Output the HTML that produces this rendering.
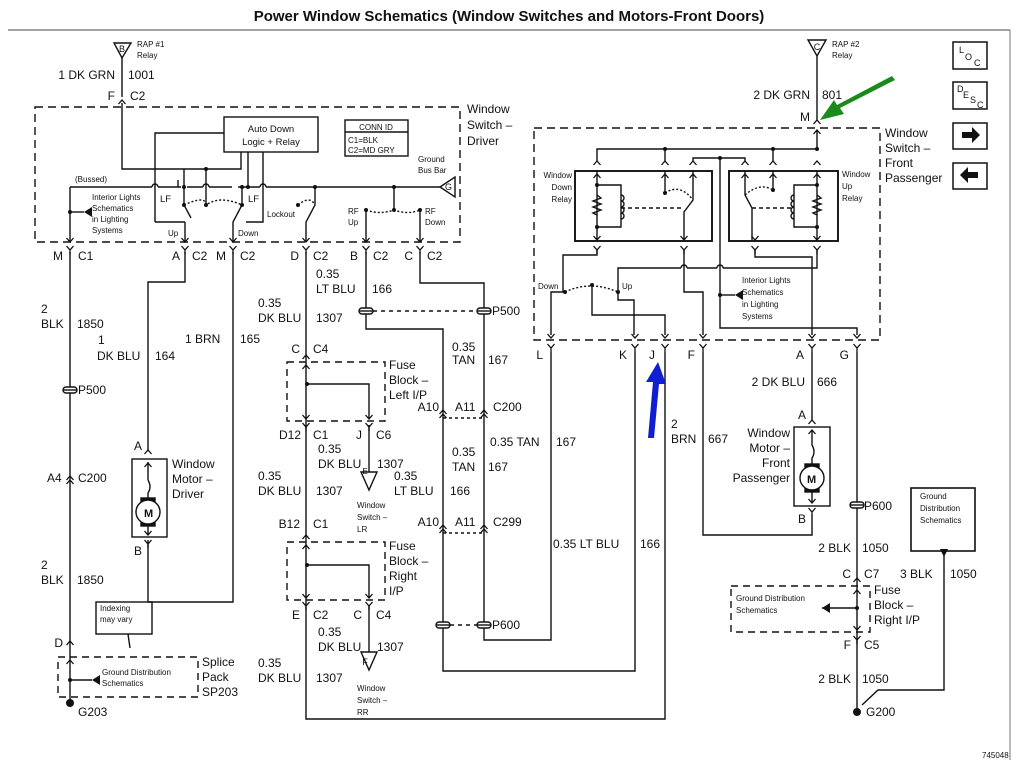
<!DOCTYPE html>
<html><head><meta charset="utf-8"><style>
html,body{margin:0;padding:0;background:#fff;}
svg{display:block;font-family:"Liberation Sans",Arial,sans-serif;}
.t{font-size:12px;fill:#111;}
.s{font-size:8px;fill:#111;}
.m{font-size:9.5px;fill:#111;}
</style></head><body>
<svg width="1018" height="772" viewBox="0 0 1018 772" xmlns="http://www.w3.org/2000/svg">
<defs>
<g id="yc"><path d="M-3.5,-4 L0,0 L3.5,-4 M0,0 V4" fill="none" stroke="#111" stroke-width="1.3"/></g>
<g id="up"><path d="M-3.5,4 L0,0 L3.5,4" fill="none" stroke="#111" stroke-width="1.3"/></g>
<g id="dn"><path d="M-3.5,-4 L0,0 L3.5,-4" fill="none" stroke="#111" stroke-width="1.3"/></g>
<g id="sp"><rect x="-7" y="-3" width="14" height="6" rx="3" fill="#fff" stroke="#111" stroke-width="1.4"/><line x1="-7" y1="0" x2="7" y2="0" stroke="#111" stroke-width="1.4"/></g>
</defs>
<text x="509" y="21" text-anchor="middle" style="font-size:15px;font-weight:bold" fill="#111">Power Window Schematics (Window Switches and Motors-Front Doors)</text>
<line x1="8" y1="30" x2="1010" y2="30" stroke="#444" stroke-width="1"/>
<line x1="1010" y1="30" x2="1010" y2="760" stroke="#777" stroke-width="1"/>

<g fill="none" stroke="#111" stroke-width="1.4">
<path d="M114,43 H131 L122,58 Z"/>
<line x1="122" y1="58" x2="122" y2="97"/>
<rect x="35" y="107" width="425" height="135" stroke-dasharray="8,5"/>
<rect x="224" y="117" width="94" height="35"/>
<rect x="345" y="120" width="63" height="36"/>
<line x1="345" y1="132" x2="408" y2="132"/>
<path d="M122,103 V169 H241 V152"/>
<path d="M155,222 V133 H224"/>
<path d="M263,152 V222 H246"/>
<path d="M248,152 V187"/>
<path d="M70,187 H152 M158,187 H181 M187,187 H203 M209,187 H232 M238,187 H260 M266,187 H440"/>
<path d="M152,187 a3,3 0 0 1 6,0 M203,187 a3,3 0 0 1 6,0 M260,187 a3,3 0 0 1 6,0"/>
<path d="M184,169 V187 M178,187 V180"/>
<path d="M206,169 V180"/>
<path d="M440,187 L455,177 V197 Z"/>
<path d="M70,187 V242"/>
<path d="M70,212 H84"/>
<path d="M184,187 V205 L191,218 M185,222 V242 M185,222 H155"/>
<path d="M242,187 V205 L233,222 V242"/>
<path d="M206,180 V205"/>
<path d="M315,187 V205 L306,222 V242"/>
<path d="M394,187 V210"/>
<path d="M366,210 V242 M420,210 V242"/>
<path d="M184,205 Q206,195 206,205 Q220,195 242,205" stroke-dasharray="2,2"/>
<path d="M298,205 Q310,195 315,205" stroke-dasharray="2,2"/>
<path d="M366,210 Q380,215 394,210 Q408,215 420,210" stroke-dasharray="2,2"/>

<path d="M70,252 V703"/>
<path d="M185,252 V282 H148 V450"/>
<path d="M148,540 V602 H233 V252"/>
<rect x="132" y="459" width="35" height="78"/>
<path d="M148,462 V480 M148,480 Q152,487 148,493 V500 M148,525 V535"/>
<rect x="141" y="498" width="14" height="28" fill="#111"/>
<circle cx="148" cy="512" r="12" fill="#fff"/>
<rect x="58" y="657" width="140" height="40" stroke-dasharray="7,5"/>
<path d="M70,680 H92"/>
<rect x="96" y="602" width="56" height="32"/>
<path d="M128,634 L130,648"/>

<path d="M306,252 V719 H665 V352"/>
<path d="M366,252 V329 H443 V671 H635 V352"/>
<path d="M420,252 V283 H484 V640 H551 V352"/>
<line x1="373" y1="311" x2="477" y2="311" stroke-dasharray="4,4"/>
<line x1="450" y1="625" x2="477" y2="625" stroke-dasharray="4,4"/>
<line x1="443" y1="418" x2="484" y2="418" stroke-dasharray="3,3"/>
<line x1="443" y1="533" x2="484" y2="533" stroke-dasharray="3,3"/>
<rect x="287" y="362" width="98" height="59" stroke-dasharray="7,5"/>
<path d="M307,384 H369 V418"/>
<rect x="287" y="542" width="98" height="58" stroke-dasharray="7,5"/>
<path d="M307,565 H369 V598 M369,605 V652"/>
<path d="M369,425 V472"/>
<path d="M361,472 H377 L369,490 Z"/>
<path d="M361,652 H377 L369,670 Z"/>

<path d="M808,40 H826 L817,56 Z"/>
<line x1="817" y1="56" x2="817" y2="120"/>
<rect x="534" y="128" width="346" height="212" stroke-dasharray="8,5"/>
<rect x="575" y="171" width="137" height="70" stroke-width="1.9"/>
<rect x="729" y="171" width="109" height="70" stroke-width="1.9"/>
<path d="M597,161 V149 H817 V130"/>
<path d="M665,149 V161 M773,149 V161"/>
<path d="M693,161 V158 H745 V161"/>
<path d="M720,158 V328 H857 V335"/>
<path d="M597,171 V240 M597,185 H621 V227 H597"/>
<path d="M665,171 V193 M693,171 V200 L684,212 V240"/>
<path d="M665,193 Q680,183 693,200" stroke-dasharray="2,2"/>
<path d="M621,208 H684" stroke-dasharray="4,3"/>
<path d="M745,171 V195 L752,208 V240 M773,171 V190"/>
<path d="M745,195 Q760,182 773,190" stroke-dasharray="2,2"/>
<path d="M752,208 H794" stroke-dasharray="4,3"/>
<path d="M817,171 V240 M817,185 H794 V227 H817"/>
<path d="M597,250 V255 H563 V292 M563,292 H551 V335"/>
<path d="M684,250 V292 H703 V335"/>
<path d="M755,250 V257 H812 V335"/>
<path d="M817,250 V268 H723 M717,268 H687 M681,268 H618 V292"/>
<path d="M717,268 a3,3 0 0 1 6,0 M681,268 a3,3 0 0 1 6,0"/>
<path d="M592,285 V315 H665 V335"/>
<path d="M618,292 V300 H634 V335"/>
<path d="M565,292 Q590,280 618,292" stroke-dasharray="2,2"/>
<path d="M720,295 H735"/>
<path d="M597,195 l4,3 -8,3 8,3 -8,3 8,3 -8,3 4,2" />
<path d="M621,195 a3,3 0 0 1 0,6 a3,3 0 0 1 0,6 a3,3 0 0 1 0,6 a3,3 0 0 1 0,6"/>
<path d="M817,195 l4,3 -8,3 8,3 -8,3 8,3 -8,3 4,2"/>
<path d="M794,195 a3,3 0 0 0 0,6 a3,3 0 0 0 0,6 a3,3 0 0 0 0,6 a3,3 0 0 0 0,6"/>

<path d="M812,352 V420"/>
<rect x="794" y="427" width="36" height="79"/>
<path d="M812,430 V445 Q816,452 812,458 V465 M812,492 V503"/>
<rect x="805" y="464" width="14" height="28" fill="#111"/>
<circle cx="812" cy="478" r="12" fill="#fff"/>
<path d="M703,352 V535 H812 V515"/>
<path d="M857,352 V712"/>
<rect x="731" y="586" width="139" height="46" stroke-dasharray="7,5"/>
<path d="M822,608 H857"/>
<rect x="911" y="488" width="64" height="63" stroke-width="1.6"/>
<path d="M944,555 V690 H878 L862,705"/>
<rect x="953" y="42" width="34" height="27" stroke-width="1.5"/>
<rect x="953" y="82" width="34" height="27" stroke-width="1.5"/>
<rect x="953" y="123" width="34" height="26" stroke-width="1.5"/>
<rect x="953" y="163" width="34" height="26" stroke-width="1.5"/>
</g>

<g fill="#111">
<path d="M84,212 l8,-5 v10 z"/>
<path d="M92,680 l8,-5 v10 z"/>
<path d="M735,295 l8,-5 v10 z"/>
<path d="M822,608 l8,-5 v10 z"/>
<path d="M940,549 h8 l-4,8 z"/>
<circle cx="70" cy="703" r="4"/><circle cx="857" cy="712" r="4"/>
<circle cx="184" cy="205" r="2"/><circle cx="242" cy="205" r="2"/><circle cx="206" cy="205" r="2"/><circle cx="206" cy="169" r="2"/>
<circle cx="184" cy="187" r="2"/><circle cx="242" cy="187" r="2"/><circle cx="248" cy="187" r="2"/><circle cx="315" cy="187" r="2"/><circle cx="394" cy="187" r="2"/><circle cx="394" cy="210" r="2"/><circle cx="366" cy="210" r="2"/><circle cx="420" cy="210" r="2"/><circle cx="298" cy="205" r="2"/><circle cx="70" cy="212" r="2"/>
<circle cx="307" cy="384" r="2"/><circle cx="307" cy="565" r="2"/><circle cx="70" cy="680" r="2"/>
<circle cx="665" cy="149" r="2"/><circle cx="773" cy="149" r="2"/><circle cx="817" cy="149" r="2"/><circle cx="720" cy="158" r="2"/>
<circle cx="597" cy="185" r="2"/><circle cx="597" cy="227" r="2"/><circle cx="817" cy="185" r="2"/><circle cx="817" cy="227" r="2"/>
<circle cx="665" cy="193" r="2"/><circle cx="773" cy="190" r="2"/><circle cx="565" cy="292" r="2"/><circle cx="618" cy="292" r="2"/><circle cx="592" cy="285" r="2"/><circle cx="720" cy="295" r="2"/><circle cx="857" cy="608" r="2"/>
<path d="M962,132 h10 v-5 l8,8 -8,8 v-5 h-10 z"/>
<path d="M978,172 h-10 v-5 l-8,8 8,8 v-5 h10 z"/>
<path d="M895,80 L840,108 L844,114 L820,120 L834,100 L837,105 L892,76 Z" fill="#1a8a1a"/>
<path d="M648,438 L653,382 L646,382 L658,362 L666,384 L659,384 L654,438 Z" fill="#1020d0"/>
</g>

<use href="#up" x="122" y="100"/>
<use href="#dn" x="70" y="242"/><use href="#yc" x="70" y="250"/>
<use href="#dn" x="185" y="242"/><use href="#yc" x="185" y="250"/>
<use href="#dn" x="233" y="242"/><use href="#yc" x="233" y="250"/>
<use href="#dn" x="306" y="242"/><use href="#yc" x="306" y="250"/>
<use href="#dn" x="366" y="242"/><use href="#yc" x="366" y="250"/>
<use href="#dn" x="420" y="242"/><use href="#yc" x="420" y="250"/>
<use href="#sp" x="70" y="390"/><use href="#sp" x="366" y="311"/><use href="#sp" x="484" y="311"/>
<use href="#sp" x="443" y="625"/><use href="#sp" x="484" y="625"/><use href="#sp" x="857" y="505"/>
<use href="#up" x="70" y="476"/><use href="#up" x="70" y="480"/>
<use href="#up" x="70" y="641"/><use href="#up" x="70" y="660"/>
<use href="#up" x="148" y="450"/><use href="#up" x="148" y="463"/><use href="#dn" x="148" y="535"/><use href="#yc" x="148" y="544"/>
<use href="#up" x="306" y="355"/><use href="#up" x="306" y="365"/><use href="#dn" x="306" y="419"/><use href="#yc" x="306" y="427"/><use href="#dn" x="369" y="419"/><use href="#yc" x="369" y="427"/>
<use href="#up" x="306" y="535"/><use href="#up" x="306" y="545"/><use href="#dn" x="306" y="598"/><use href="#yc" x="306" y="606"/><use href="#dn" x="369" y="598"/><use href="#yc" x="369" y="606"/>
<use href="#up" x="443" y="410"/><use href="#up" x="443" y="414"/><use href="#up" x="484" y="410"/><use href="#up" x="484" y="414"/>
<use href="#up" x="443" y="525"/><use href="#up" x="443" y="529"/><use href="#up" x="484" y="525"/><use href="#up" x="484" y="529"/>
<use href="#up" x="817" y="120"/><use href="#up" x="817" y="130"/>
<use href="#up" x="597" y="161"/><use href="#up" x="665" y="161"/><use href="#up" x="693" y="161"/><use href="#up" x="745" y="161"/><use href="#up" x="773" y="161"/><use href="#up" x="817" y="161"/>
<use href="#up" x="597" y="174"/><use href="#up" x="665" y="174"/><use href="#up" x="693" y="174"/><use href="#up" x="745" y="174"/><use href="#up" x="773" y="174"/><use href="#up" x="817" y="174"/>
<use href="#dn" x="597" y="240"/><use href="#dn" x="684" y="240"/><use href="#dn" x="755" y="240"/><use href="#dn" x="817" y="240"/>
<use href="#yc" x="597" y="250"/><use href="#yc" x="684" y="250"/><use href="#yc" x="755" y="250"/><use href="#yc" x="817" y="250"/>
<use href="#dn" x="551" y="338"/><use href="#yc" x="551" y="348"/><use href="#dn" x="635" y="338"/><use href="#yc" x="635" y="348"/>
<use href="#dn" x="665" y="338"/><use href="#yc" x="665" y="348"/><use href="#dn" x="703" y="338"/><use href="#yc" x="703" y="348"/>
<use href="#dn" x="812" y="338"/><use href="#yc" x="812" y="348"/><use href="#dn" x="857" y="338"/><use href="#yc" x="857" y="348"/>
<use href="#up" x="812" y="420"/><use href="#up" x="812" y="430"/><use href="#dn" x="812" y="503"/><use href="#yc" x="812" y="512"/>
<use href="#up" x="857" y="578"/><use href="#up" x="857" y="590"/><use href="#dn" x="857" y="630"/><use href="#yc" x="857" y="640"/>

<g class="t">
<text x="122" y="52" class="s" text-anchor="middle" style="font-size:9px">B</text>
<text x="817" y="50" class="s" text-anchor="middle" style="font-size:9px">C</text>
<text x="115" y="79" text-anchor="end">1 DK GRN</text><text x="128" y="79">1001</text>
<text x="115" y="100" text-anchor="end">F</text><text x="130" y="100">C2</text>
<text x="467" y="113">Window</text><text x="467" y="129">Switch –</text><text x="467" y="145">Driver</text>
<text x="63" y="260" text-anchor="end">M</text><text x="78" y="260">C1</text>
<text x="180" y="260" text-anchor="end">A</text><text x="192" y="260">C2</text>
<text x="226" y="260" text-anchor="end">M</text><text x="240" y="260">C2</text>
<text x="299" y="260" text-anchor="end">D</text><text x="313" y="260">C2</text>
<text x="358" y="260" text-anchor="end">B</text><text x="373" y="260">C2</text>
<text x="413" y="260" text-anchor="end">C</text><text x="427" y="260">C2</text>
<text x="41" y="313">2</text><text x="41" y="328">BLK</text><text x="77" y="328">1850</text>
<text x="98" y="344">1</text><text x="97" y="360">DK BLU</text><text x="155" y="360">164</text>
<text x="185" y="343">1 BRN</text><text x="240" y="343">165</text>
<text x="316" y="278">0.35</text><text x="316" y="293">LT BLU</text><text x="372" y="293">166</text>
<text x="258" y="307">0.35</text><text x="258" y="322">DK BLU</text><text x="316" y="322">1307</text>
<text x="78" y="394">P500</text><text x="492" y="315">P500</text>
<text x="300" y="353" text-anchor="end">C</text><text x="313" y="353">C4</text>
<text x="389" y="369">Fuse</text><text x="389" y="384">Block –</text><text x="389" y="399">Left I/P</text>
<text x="452" y="351">0.35</text><text x="452" y="364">TAN</text><text x="488" y="364">167</text>
<text x="439" y="411" text-anchor="end">A10</text><text x="455" y="411">A11</text><text x="493" y="411">C200</text>
<text x="301" y="439" text-anchor="end">D12</text><text x="313" y="439">C1</text><text x="362" y="439" text-anchor="end">J</text><text x="376" y="439">C6</text>
<text x="490" y="446">0.35 TAN</text><text x="556" y="446">167</text>
<text x="452" y="456">0.35</text><text x="452" y="471">TAN</text><text x="488" y="471">167</text>
<text x="318" y="453">0.35</text><text x="318" y="468">DK BLU</text><text x="377" y="468">1307</text>
<text x="258" y="480">0.35</text><text x="258" y="495">DK BLU</text><text x="316" y="495">1307</text>
<text x="394" y="480">0.35</text><text x="394" y="495">LT BLU</text><text x="450" y="495">166</text>
<text x="439" y="526" text-anchor="end">A10</text><text x="455" y="526">A11</text><text x="493" y="526">C299</text>
<text x="300" y="528" text-anchor="end">B12</text><text x="313" y="528">C1</text>
<text x="389" y="550">Fuse</text><text x="389" y="565">Block –</text><text x="389" y="580">Right</text><text x="389" y="595">I/P</text>
<text x="553" y="548">0.35 LT BLU</text><text x="640" y="548">166</text>
<text x="300" y="619" text-anchor="end">E</text><text x="313" y="619">C2</text><text x="362" y="619" text-anchor="end">C</text><text x="376" y="619">C4</text>
<text x="318" y="636">0.35</text><text x="318" y="651">DK BLU</text><text x="377" y="651">1307</text>
<text x="258" y="667">0.35</text><text x="258" y="682">DK BLU</text><text x="316" y="682">1307</text>
<text x="492" y="629">P600</text>
<text x="47" y="482">A4</text><text x="78" y="482">C200</text>
<text x="142" y="450" text-anchor="end">A</text><text x="142" y="555" text-anchor="end">B</text>
<text x="172" y="468">Window</text><text x="172" y="483">Motor –</text><text x="172" y="498">Driver</text>
<text x="41" y="569">2</text><text x="41" y="584">BLK</text><text x="77" y="584">1850</text>
<text x="63" y="647" text-anchor="end">D</text>
<text x="202" y="666">Splice</text><text x="202" y="681">Pack</text><text x="202" y="696">SP203</text>
<text x="78" y="716">G203</text>
<text x="810" y="99" text-anchor="end">2 DK GRN</text><text x="822" y="99">801</text>
<text x="810" y="121" text-anchor="end">M</text>
<text x="885" y="137">Window</text><text x="885" y="152">Switch –</text><text x="885" y="167">Front</text><text x="885" y="182">Passenger</text>
<text x="543" y="359" text-anchor="end">L</text><text x="627" y="359" text-anchor="end">K</text><text x="655" y="359" text-anchor="end">J</text><text x="695" y="359" text-anchor="end">F</text><text x="804" y="359" text-anchor="end">A</text><text x="849" y="359" text-anchor="end">G</text>
<text x="805" y="386" text-anchor="end">2 DK BLU</text><text x="817" y="386">666</text>
<text x="806" y="419" text-anchor="end">A</text><text x="806" y="523" text-anchor="end">B</text>
<text x="671" y="428">2</text><text x="671" y="443">BRN</text><text x="708" y="443">667</text>
<text x="790" y="437" text-anchor="end">Window</text><text x="790" y="452" text-anchor="end">Motor –</text><text x="790" y="467" text-anchor="end">Front</text><text x="790" y="482" text-anchor="end">Passenger</text>
<text x="864" y="510">P600</text>
<text x="851" y="552" text-anchor="end">2 BLK</text><text x="862" y="552">1050</text>
<text x="851" y="578" text-anchor="end">C</text><text x="864" y="578">C7</text>
<text x="900" y="578">3 BLK</text><text x="950" y="578">1050</text>
<text x="874" y="594">Fuse</text><text x="874" y="609">Block –</text><text x="874" y="624">Right I/P</text>
<text x="851" y="649" text-anchor="end">F</text><text x="864" y="649">C5</text>
<text x="851" y="683" text-anchor="end">2 BLK</text><text x="862" y="683">1050</text>
<text x="866" y="716">G200</text>
</g>
<g class="s">
<text x="137" y="47">RAP #1</text><text x="137" y="58">Relay</text>
<text x="832" y="47">RAP #2</text><text x="832" y="58">Relay</text>
<text x="271" y="132" class="m" text-anchor="middle">Auto Down</text><text x="271" y="145" class="m" text-anchor="middle">Logic + Relay</text>
<text x="376" y="130" text-anchor="middle">CONN ID</text><text x="348" y="143">C1=BLK</text><text x="348" y="153">C2=MD GRY</text>
<text x="418" y="162">Ground</text><text x="418" y="173">Bus Bar</text>
<text x="445" y="190" style="font-size:9px">G</text>
<text x="75" y="182">(Bussed)</text>
<text x="92" y="200">Interior Lights</text><text x="92" y="211">Schematics</text><text x="92" y="222">in Lighting</text><text x="92" y="233">Systems</text>
<text x="160" y="202" class="m">LF</text><text x="248" y="202" class="m">LF</text>
<text x="168" y="236">Up</text><text x="238" y="236">Down</text>
<text x="267" y="217">Lockout</text>
<text x="348" y="214">RF</text><text x="348" y="225">Up</text><text x="425" y="214">RF</text><text x="425" y="225">Down</text>
<text x="100" y="611">Indexing</text><text x="100" y="622">may vary</text>
<text x="102" y="675">Ground Distribution</text><text x="102" y="686">Schematics</text>
<text x="365" y="474" text-anchor="middle">E</text><text x="365" y="665" text-anchor="middle" style="font-size:9px">F</text>
<text x="357" y="508">Window</text><text x="357" y="520">Switch –</text><text x="357" y="532">LR</text>
<text x="357" y="691">Window</text><text x="357" y="703">Switch –</text><text x="357" y="715">RR</text>
<text x="572" y="178" text-anchor="end">Window</text><text x="572" y="190" text-anchor="end">Down</text><text x="572" y="202" text-anchor="end">Relay</text>
<text x="842" y="177">Window</text><text x="842" y="189">Up</text><text x="842" y="201">Relay</text>
<text x="538" y="289">Down</text><text x="622" y="289">Up</text>
<text x="742" y="283">Interior Lights</text><text x="742" y="295">Schematics</text><text x="742" y="307">in Lighting</text><text x="742" y="319">Systems</text>
<text x="920" y="499">Ground</text><text x="920" y="511">Distribution</text><text x="920" y="523">Schematics</text>
<text x="736" y="601">Ground Distribution</text><text x="736" y="613">Schematics</text>
<text x="982" y="758">745048</text>
<text x="959" y="53" style="font-size:9px">L</text><text x="965" y="60" style="font-size:9px">O</text><text x="974" y="66" style="font-size:9px">C</text>
<text x="957" y="92" style="font-size:9px">D</text><text x="963" y="98" style="font-size:9px">E</text><text x="970" y="103" style="font-size:9px">S</text><text x="977" y="108" style="font-size:9px">C</text>
</g>
<text x="144" y="517" style="font-size:11px;font-weight:bold" fill="#111">M</text>
<text x="807" y="483" style="font-size:11px;font-weight:bold" fill="#111">M</text>
</svg>
</body></html>
